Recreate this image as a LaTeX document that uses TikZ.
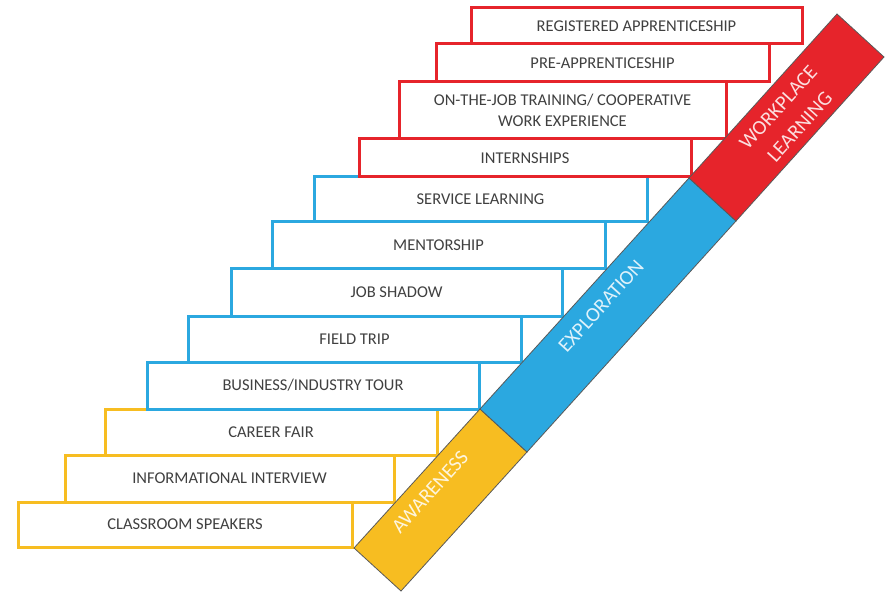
\documentclass[tikz,border=0pt]{standalone}
\usepackage{fontspec}
\setmainfont{Carlito}
\definecolor{awareyellow}{HTML}{F7BD21}
\definecolor{exploreblue}{HTML}{2BA8E0}
\definecolor{workred}{HTML}{E6242B}
\definecolor{labelgray}{HTML}{404040}
\tikzset{
  stepbox/.style={draw, line width=3pt, fill=white, inner sep=0pt, text=labelgray,
    font=\fontsize{16.5}{21}\selectfont, align=center},
  bandpart/.style={draw=black!65, line width=0.8pt},
  bandlabel/.style={text=white, text opacity=0.85, rotate=47.9, inner sep=0pt,
    font=\fontsize{20.5}{29}\selectfont, align=center}
}
\begin{document}
\begin{tikzpicture}[x=1pt,y=-1pt]
    \useasboundingbox (0,0) rectangle (890,593);

    % awareness steps
    \node[stepbox, draw=awareyellow, minimum width=334pt, minimum height=45pt] (Speakers) at (185,524.5) {CLASSROOM SPEAKERS};
    \node[stepbox, draw=awareyellow, minimum width=329pt, minimum height=47pt] (Interview) at (229.5,478.5) {INFORMATIONAL INTERVIEW};
    \node[stepbox, draw=awareyellow, minimum width=332pt, minimum height=46pt] (Fair) at (271,432) {CAREER FAIR};

    % exploration steps
    \node[stepbox, draw=exploreblue, minimum width=332pt, minimum height=47pt] (Tour) at (313,385.5) {BUSINESS/INDUSTRY TOUR};
    \node[stepbox, draw=exploreblue, minimum width=333pt, minimum height=46pt] (Trip) at (354.5,339) {FIELD TRIP};
    \node[stepbox, draw=exploreblue, minimum width=331pt, minimum height=47pt] (Shadow) at (396.5,292.5) {JOB SHADOW};
    \node[stepbox, draw=exploreblue, minimum width=333pt, minimum height=47pt] (Mentor) at (438.5,245.5) {MENTORSHIP};
    \node[stepbox, draw=exploreblue, minimum width=333pt, minimum height=45pt] (Service) at (480.5,199.5) {SERVICE LEARNING};

    % workplace steps
    \node[stepbox, draw=workred, minimum width=332pt, minimum height=38pt] (Intern) at (525,158) {INTERNSHIPS};
    \node[stepbox, draw=workred, minimum width=327pt, minimum height=57pt] (Coop) at (562.5,110.5) {ON-THE-JOB TRAINING/ COOPERATIVE\\WORK EXPERIENCE};
    \node[stepbox, draw=workred, minimum width=333pt, minimum height=38pt] (PreApp) at (602.5,63) {PRE-APPRENTICESHIP};
    \node[stepbox, draw=workred, minimum width=331pt, minimum height=36pt] (RegApp) at (636.5,26) {REGISTERED APPRENTICESHIP};

    % the band
    \coordinate (A0) at (354,548);
    \coordinate (B0) at (401,591);
    \coordinate (A1) at (480,409);
    \coordinate (B1) at (527,452);
    \coordinate (A2) at (689,178);
    \coordinate (B2) at (736,221);
    \coordinate (A3) at (837,14);
    \coordinate (B3) at (884,57);

    \filldraw[bandpart, fill=awareyellow] (A0) -- (B0) -- (B1) -- (A1) -- cycle;
    \filldraw[bandpart, fill=exploreblue] (A1) -- (B1) -- (B2) -- (A2) -- cycle;
    \filldraw[bandpart, fill=workred] (A2) -- (B2) -- (B3) -- (A3) -- cycle;

    \node[bandlabel] (Awareness) at (430,492) {AWARENESS};
    \node[bandlabel] (Exploration) at (601,306) {EXPLORATION};
    \node[bandlabel] (Workplace) at (789,117) {WORKPLACE\\LEARNING};
\end{tikzpicture}
\end{document}
